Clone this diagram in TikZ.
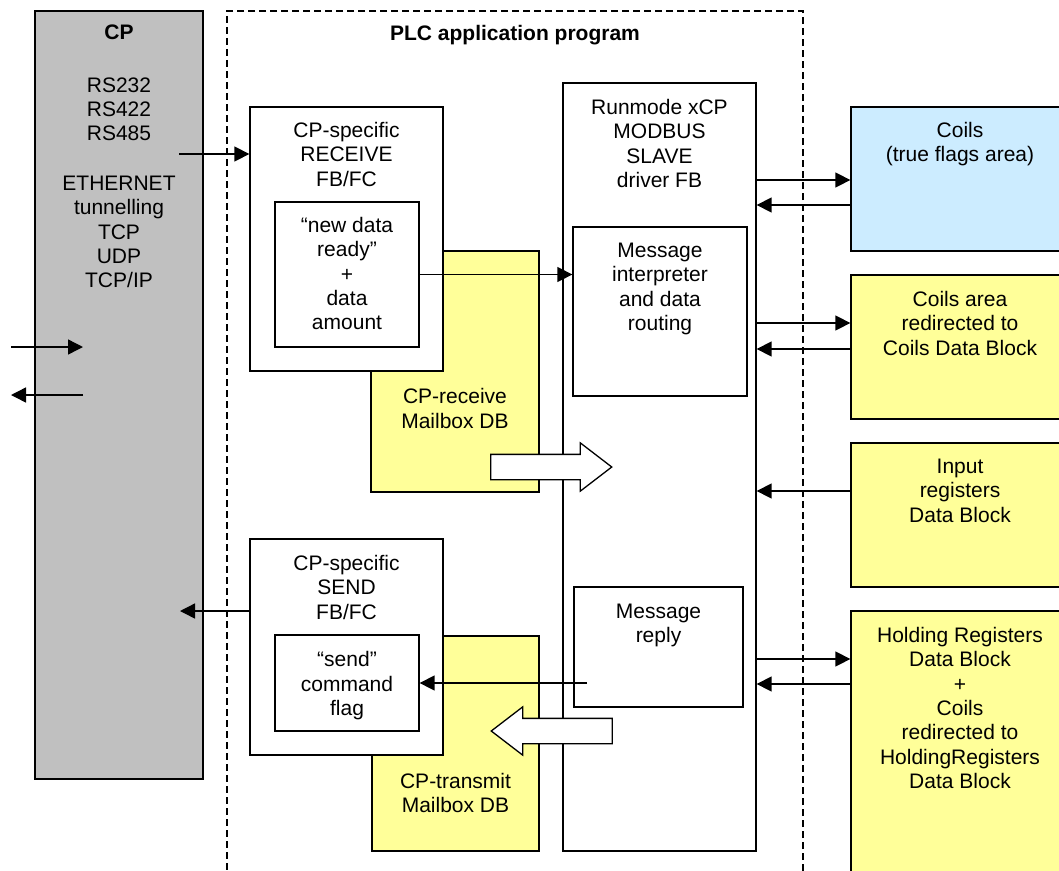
\documentclass[tikz,border=0pt]{standalone}
\usepackage{fontspec}
\setmainfont{Liberation Sans}
\usepackage{xcolor}
\definecolor{cpgray}{RGB}{192,192,192}
\definecolor{dbyellow}{RGB}{255,255,153}
\definecolor{coilblue}{RGB}{204,236,255}
\usetikzlibrary{arrows.meta,positioning,shapes.arrows}

\begin{document}
\begin{tikzpicture}[x=1pt,y=-1pt,
        box/.style={rectangle, draw=black, line width=1.3pt, fill=white, inner sep=0pt},
        cpbox/.style={box, fill=cpgray},
        db/.style={box, fill=dbyellow},
        coildb/.style={box, fill=coilblue},
        txt/.style={inner sep=0pt, align=center, font=\fontsize{21}{24.4}\selectfont},
        frame/.style={rectangle, draw=black, line width=1.6pt, dash pattern=on 7pt off 4pt, inner sep=0pt},
        push/.style={single arrow, draw=black, fill=white, line width=1.3pt, inner sep=0pt, text height=12pt, text depth=12pt, text width=0pt, minimum width=47pt, single arrow head extend=11.5pt, single arrow tip angle=75, single arrow head indent=0pt},
        rel/.style={-{Triangle[length=15pt,width=15pt]}, line width=1.4pt}
    ]
        \useasboundingbox (0,0) rectangle (1059,870);
        \clip (0,0) rectangle (1059,870);

        \node[frame, minimum width=576pt, minimum height=889pt] (plc) at (515,455.5) {};
        \node[txt, below=14.5pt of plc.north] (plc-txt) {\textbf{PLC application program}};

        \node[cpbox, minimum width=168pt, minimum height=768pt] (cp) at (119,395) {};
        \node[txt, below=14.5pt of cp.north] (cp-txt) {\textbf{CP}\\[28pt]RS232\\RS422\\RS485\\[25pt]ETHERNET\\tunnelling\\TCP\\UDP\\TCP/IP};

        \node[db, minimum width=168pt, minimum height=241pt] (recvmb) at (455,371.5) {};
        \node[txt, below=138pt of recvmb.north] (recvmb-txt) {CP-receive\\Mailbox DB};
        \node[box, minimum width=193pt, minimum height=264pt] (recv) at (346.5,239) {};
        \node[txt, below=15.5pt of recv.north] (recv-txt) {CP-specific\\RECEIVE\\FB/FC};
        \node[box, minimum width=144pt, minimum height=145pt] (ready) at (347,274.5) {};
        \node[txt, below=15.5pt of ready.north] (ready-txt) {“new data\\ready”\\+\\data\\amount};

        \node[db, minimum width=167pt, minimum height=215pt] (xmitmb) at (455.5,743.5) {};
        \node[txt, below=137.5pt of xmitmb.north] (xmitmb-txt) {CP-transmit\\Mailbox DB};
        \node[box, minimum width=193pt, minimum height=216pt] (send) at (346.5,647) {};
        \node[txt, below=16.5pt of send.north] (send-txt) {CP-specific\\SEND\\FB/FC};
        \node[box, minimum width=144pt, minimum height=96pt] (flag) at (347,683) {};
        \node[txt, below=17pt of flag.north] (flag-txt) {“send”\\command\\flag};

        \node[box, minimum width=193pt, minimum height=768pt] (drv) at (659.5,467) {};
        \node[txt, below=16.5pt of drv.north] (drv-txt) {Runmode xCP\\MODBUS\\SLAVE\\driver FB};
        \node[box, minimum width=174pt, minimum height=169pt] (interp) at (660,311.5) {};
        \node[txt, below=16.5pt of interp.north] (interp-txt) {Message\\interpreter\\and data\\routing};
        \node[box, minimum width=169pt, minimum height=120pt] (reply) at (658.5,647) {};
        \node[txt, below=17pt of reply.north] (reply-txt) {Message\\reply};

        \node[push, minimum height=121pt] (pushin) at (543,467) {};
        \node[push, minimum height=121pt, shape border rotate=180] (pushout) at (560,731) {};

        \node[coildb, minimum width=218pt, minimum height=144pt] (coils) at (960,179) {};
        \node[txt, below=15.5pt of coils.north] (coils-txt) {Coils\\(true flags area)};
        \node[db, minimum width=218pt, minimum height=144pt] (coilsdb) at (960,347) {};
        \node[txt, below=16.5pt of coilsdb.north] (coilsdb-txt) {Coils area\\redirected to\\Coils Data Block};
        \node[db, minimum width=218pt, minimum height=144pt] (input) at (960,515) {};
        \node[txt, below=16.5pt of input.north] (input-txt) {Input\\registers\\Data Block};
        \node[db, minimum width=218pt, minimum height=289pt] (holding) at (960,755.5) {};
        \node[txt, below=16.5pt of holding.north] (holding-txt) {Holding Registers\\Data Block\\+\\Coils\\redirected to\\HoldingRegisters\\Data Block};

        \coordinate (linein) at (11,347);
        \coordinate (lineout) at (83,395);
        \coordinate (cpout) at (179,154);
        \coordinate (cpin) at (180,611);
        \coordinate (replyout) at (587,683);

        \draw[rel] (linein) -- (linein -| lineout);
        \draw[rel] (lineout) -- (lineout -| linein);
        \draw[rel] (cpout) -- (cpout -| recv.west);
        \draw[rel] (ready.east) -- (ready.east -| interp.west);
        \draw[rel] (replyout) -- (replyout -| flag.east);
        \draw[rel] (cpin -| send.west) -- (cpin);

        \draw[rel] (drv.east |- 0,180) -- (coils.west |- 0,180);
        \draw[rel] (coils.west |- 0,205) -- (drv.east |- 0,205);
        \draw[rel] (drv.east |- 0,323) -- (coilsdb.west |- 0,323);
        \draw[rel] (coilsdb.west |- 0,349) -- (drv.east |- 0,349);
        \draw[rel] (input.west |- 0,491) -- (drv.east |- 0,491);
        \draw[rel] (drv.east |- 0,659) -- (holding.west |- 0,659);
        \draw[rel] (holding.west |- 0,684) -- (drv.east |- 0,684);
    \end{tikzpicture}
\end{document}
